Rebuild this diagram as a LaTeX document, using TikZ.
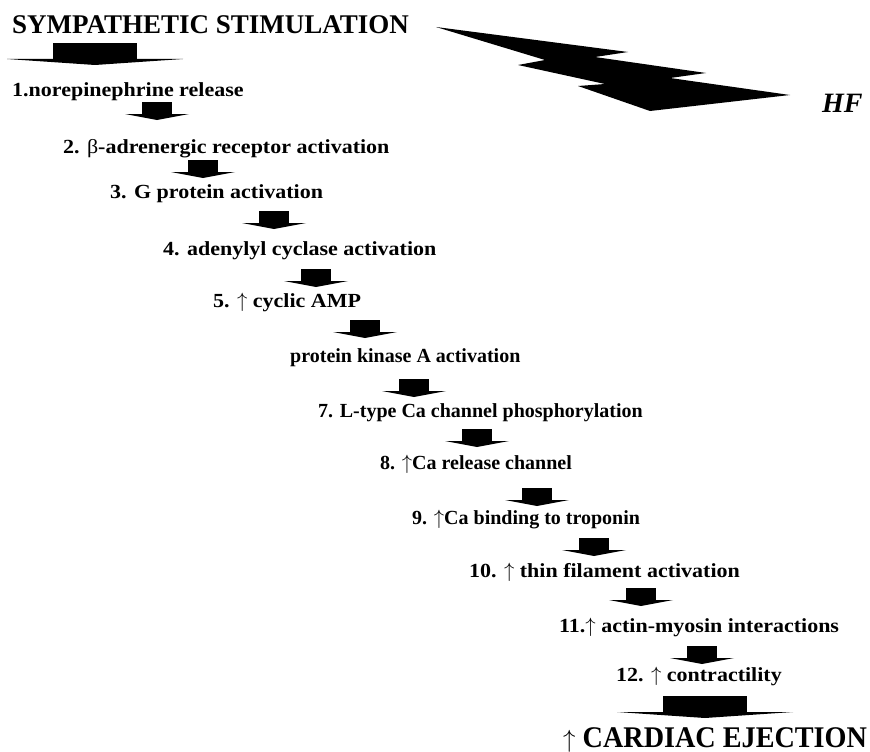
\documentclass[tikz,border=0pt]{standalone}
\usepackage{fontspec}
\setmainfont{Liberation Serif}
\newfontfamily\stagefont{Liberation Serif}[FakeStretch=1.1]
\newfontfamily\flatstage{Liberation Serif}[FakeStretch=1.0]
\newfontfamily\bigfont{Liberation Serif}[FakeStretch=0.94]
\usepackage{tikz}

\tikzset{
  stage/.style={anchor=base west,inner sep=0pt,font=\stagefont\bfseries\fontsize{20}{24}\selectfont},
  flat/.style={font=\flatstage\bfseries\fontsize{20}{24}\selectfont},
  headline/.style={anchor=base west,inner sep=0pt,font=\bfseries\fontsize{27}{32}\selectfont},
  smallarr/.pic={\fill (-15,0) rectangle (15,12);
    \fill (-32,12) -- (32,12) -- (0,18) -- cycle;},
  bigarr/.pic={\fill (-42,0) rectangle (42,16);
    \fill (-88,16) -- (88,16) -- (0,22) -- cycle;}
}
\newcommand{\up}{$\uparrow$}

\begin{document}
\begin{tikzpicture}[x=1pt,y=-1pt]
      \useasboundingbox (0,0) rectangle (870,752);
      \node (symp) [headline] at (12,34) {SYMPATHETIC STIMULATION};
      \node (hf) [headline,font=\bfseries\itshape\fontsize{28}{32}\selectfont] at (822,112) {HF};
      \node (s1) [stage] at (12,96) {1.norepinephrine release};
      \node (s2) [stage] at (63,153) {2. {\mdseries β}-adrenergic receptor activation};
      \node (s3) [stage] at (110,198) {3. G protein activation};
      \node (s4) [stage] at (163,255) {4. adenylyl cyclase activation};
      \node (s5) [stage] at (213,307) {5. \up{} cyclic AMP};
      \node (s6) [stage,flat] at (290,362) {protein kinase A activation};
      \node (s7) [stage,flat] at (318,417) {7. L-type Ca channel phosphorylation};
      \node (s8) [stage,flat] at (380,469) {8. \up{}Ca release channel};
      \node (s9) [stage,flat] at (412,524) {9. \up{}Ca binding to troponin};
      \node (s10) [stage] at (469,577) {10. \up{} thin filament activation};
      \node (s11) [stage] at (559,632) {11.\up{} actin-myosin interactions};
      \node (s12) [stage] at (616,681) {12. \up{} contractility};
      \node (eject) [headline,font=\bigfont\bfseries\fontsize{30}{34}\selectfont] at (563,747) {\up{} CARDIAC EJECTION};
%%
      \coordinate (a1) at (95,43);
      \coordinate (a2) at (157,102);
      \coordinate (a3) at (203,160);
      \coordinate (a4) at (274,211);
      \coordinate (a5) at (316,269);
      \coordinate (a6) at (365,320);
      \coordinate (a7) at (414,379);
      \coordinate (a8) at (477,429);
      \coordinate (a9) at (537,488);
      \coordinate (a10) at (594,538);
      \coordinate (a11) at (641,588);
      \coordinate (a12) at (702,646);
      \coordinate (a13) at (705,696);
      \pic at (a1) {bigarr};
      \foreach \a in {a2,a3,a4,a5,a6,a7,a8,a9,a10,a11,a12}
        \pic at (\a) {smallarr};
      \pic at (a13) {bigarr};
%%
      \fill (436,27) -- (628,52) -- (595,57) -- (706,73) -- (670,78)
        -- (790,95) -- (650,111) -- (578,86) -- (605,84) -- (518,65)
        -- (545,60) -- cycle;
\end{tikzpicture}
\end{document}
